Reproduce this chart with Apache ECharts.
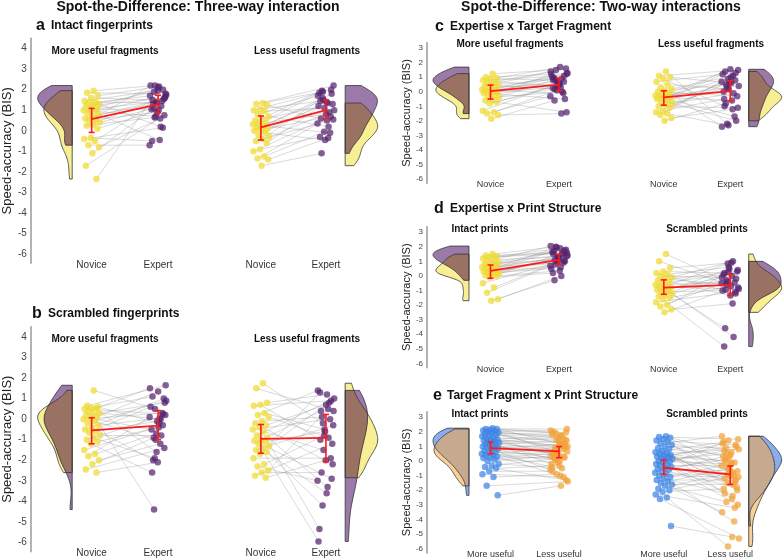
<!DOCTYPE html>
<html>
<head>
<meta charset="utf-8">
<script src="https://cdn.jsdelivr.net/npm/echarts@6/dist/echarts.min.js"></script>
<style>
  html, body { margin: 0; padding: 0; background: #fff; }
  #chart { width: 783px; height: 559px; }
</style>
</head>
<body>
<div id="chart"></div>
<script>
var myChart = echarts.init(document.getElementById('chart'))

// tick labels and category names
var yTicksTall = [-6, -5, -4, -3, -2, -1, 0, 1, 2, 3, 4]
var yTicksShort = [-6, -5, -4, -3, -2, -1, 0, 1, 2, 3]
var expertiseNames = ['Novice', 'Expert']
var fragmentNames = ['More useful', 'Less useful']

// a  Intact fingerprints (novice[i] paired with expert[i])
var aMoreNovice = [1.95, 1.85, 1.7, 1.6, 1.45, 1.4, 1.35, 1.3, 1.25, 1.2, 1.1, 1.05, 1.0, 0.95, 0.85, 0.8, 0.7, 0.6, 0.55, 0.5, 0.4, 0.3, 0.25, 0.1, -0.35, -0.4, -0.5, -0.7, -0.8, -1.1, -1.7, -2.35]
var aMoreExpert = [2.2, 1.8, 2.15, 1.5, 2.0, 1.35, 1.7, 0.2, 1.9, 1.6, 2.1, 1.05, 1.45, 0.7, 1.75, -0.45, 1.3, 1.55, 0.9, 2.2, 1.2, 0.65, 1.65, 1.0, -0.5, 0.15, 1.4, -0.7, 0.6, 1.1, 0.75, 1.95]
var aLessNovice = [1.35, 1.3, 1.25, 1.05, 1.0, 0.95, 0.8, 0.7, 0.6, 0.5, 0.4, 0.35, 0.3, 0.25, 0.15, 0.1, 0.05, 0.0, -0.1, -0.2, -0.3, -0.4, -0.5, -0.6, -0.9, -1.0, -1.25, -1.35, -1.4, -1.7]
var aLessExpert = [1.9, 2.2, 0.5, 1.45, 2.0, 1.1, 1.7, 0.2, 1.95, 1.3, 0.8, 1.85, -0.1, 1.5, 1.0, 1.35, 0.6, 1.8, -0.45, 1.2, 0.9, 1.6, 0.55, 1.4, -0.3, 0.7, -0.05, 0.35, -0.35, -1.1]
// [mean, lower, upper] for the four columns
var aMeans = [[0.57, -0.08, 1.09], [1.28, 0.88, 1.73], [0.16, -0.45, 0.72], [1.0, 0.6, 1.49]]

// b  Scrambled fingerprints
var bMoreNovice = [1.4, 0.65, 0.6, 0.55, 0.5, 0.5, 0.4, 0.3, 0.25, 0.2, 0.1, 0.05, 0.0, -0.1, -0.2, -0.3, -0.4, -0.5, -0.6, -0.65, -0.8, -0.9, -1.0, -1.1, -1.2, -1.5, -1.7, -1.8, -2.0, -2.2, -2.45, -2.6]
var bMoreExpert = [0.5, 1.65, -0.2, 1.1, 0.25, -1.6, 1.5, 0.0, -4.4, 0.8, 1.35, -0.5, 0.3, -1.0, 0.9, 0.05, -2.0, 1.0, -0.1, 0.6, -0.8, -1.9, 0.2, -0.4, -2.6, -0.3, -0.7, 0.1, -1.2, -0.9, -1.4, -2.1]
var bLessNovice = [1.75, 1.5, 0.8, 0.7, 0.65, 0.3, 0.2, 0.1, -0.1, -0.2, -0.3, -0.4, -0.5, -0.6, -0.8, -0.9, -1.0, -1.05, -1.1, -1.2, -1.3, -1.4, -1.5, -1.6, -1.7, -1.9, -2.2, -2.3, -2.5, -2.6, -2.75, -2.85]
var bLessExpert = [-0.2, 0.4, 1.2, -1.0, 0.9, -0.5, 1.4, -0.9, 0.1, -2.2, 0.7, -5.35, 0.0, -1.5, 1.0, -3.3, 0.4, -2.9, -0.6, -5.95, 0.8, -4.2, -0.3, -3.6, 1.3, -1.9, -0.8, -3.0, 0.5, -2.6, -1.2, -2.0]
var bMeans = [[-0.55, -1.2, 0.07], [-0.31, -1.0, 0.42], [-0.96, -1.66, -0.26], [-0.91, -2.07, 0.23]]

// c  Expertise x Target Fragment
var cMoreNovice = [1.25, 1.0, 0.95, 0.9, 0.8, 0.7, 0.6, 0.5, 0.45, 0.4, 0.3, 0.2, 0.15, 0.1, 0.05, 0.0, -0.05, -0.1, -0.2, -0.3, -0.35, -0.5, -0.6, -0.7, -0.8, -1.3, -1.4, -1.5, -1.6, -1.85]
var cMoreExpert = [1.5, 1.25, 1.7, 0.8, 1.1, 0.4, 1.4, 0.9, 0.2, 1.6, 0.55, 1.0, -0.1, 0.75, 1.3, 0.3, 0.95, -0.5, 0.6, 1.2, 0.0, 0.85, -1.4, 0.5, 0.25, 0.7, 0.1, -0.3, -1.5, -0.6]
var cLessNovice = [1.4, 1.1, 1.0, 0.9, 0.7, 0.5, 0.3, 0.2, 0.1, 0.0, -0.1, -0.2, -0.25, -0.3, -0.35, -0.4, -0.45, -0.5, -0.6, -0.7, -0.8, -0.9, -1.0, -1.1, -1.3, -1.4, -1.5, -1.6, -1.8, -2.0]
var cLessExpert = [-2.2, 1.5, 0.6, -1.0, 1.3, 0.2, -2.4, 1.1, 0.5, -0.3, 1.55, 0.0, -1.7, 0.9, 0.4, -0.6, 1.4, -2.0, 0.65, 1.2, -0.1, 0.3, -1.1, 1.0, -0.5, 0.8, -2.3, 0.7, -1.2, -0.8]
var cMeans = [[0.05, -0.5, 0.46], [0.5, 0.07, 0.92], [-0.39, -0.92, 0.07], [0.05, -0.62, 0.76]]

// d  Expertise x Print Structure
var dIntactNovice = [1.5, 1.4, 1.35, 1.3, 1.2, 1.1, 1.0, 0.9, 0.85, 0.8, 0.7, 0.65, 0.6, 0.5, 0.45, 0.4, 0.35, 0.3, 0.25, 0.2, 0.15, 0.1, 0.05, 0.0, -0.1, -0.5, -0.8, -1.15, -1.6, -1.7]
var dIntactExpert = [2.0, 1.6, 1.9, 1.5, 1.75, 1.3, 2.05, 1.45, 1.1, 1.8, 1.2, 1.65, 0.9, 1.95, 1.4, 0.6, 1.7, 1.0, 1.25, 0.5, 1.55, 0.8, 1.35, 0.35, 0.2, 1.05, 0.95, 0.7, 0.0, -0.3]
var dScrambledNovice = [1.5, 1.0, 0.55, 0.3, 0.2, 0.1, 0.0, -0.1, -0.2, -0.3, -0.4, -0.5, -0.6, -0.7, -0.75, -0.8, -0.9, -0.95, -1.0, -1.1, -1.2, -1.3, -1.4, -1.5, -1.6, -1.8, -2.0, -2.1, -2.3, -2.5]
var dScrambledExpert = [-0.4, -0.8, 0.9, 0.2, -1.2, 0.6, -0.1, 1.0, -0.6, 0.3, -1.35, 0.1, -0.45, 0.85, -0.9, 0.0, -3.6, -0.2, 0.5, -1.0, -4.2, -0.3, 0.4, -0.7, -4.85, -1.1, 0.25, -0.5, -1.9, -0.95]
var dMeans = [[0.34, -0.16, 0.75], [1.1, 0.8, 1.49], [-0.8, -1.26, -0.27], [-0.62, -1.33, 0.12]]

// e  Target Fragment x Print Structure (more useful[i] paired with less useful[i])
var eIntactMore = [2.25, 2.2, 2.2, 2.15, 2.1, 2.05, 2.0, 1.95, 1.9, 1.85, 1.8, 1.75, 1.7, 1.6, 1.55, 1.5, 1.45, 1.4, 1.35, 1.3, 1.25, 1.2, 1.15, 1.1, 1.05, 1.0, 0.95, 0.9, 0.85, 0.8, 0.7, 0.6, 0.55, 0.5, 0.45, 0.4, 0.3, 0.25, 0.2, 0.1, 0.0, -0.2, -0.3, -0.4, -0.5, -0.7, -0.9, -1.1, -1.7, -2.35]
var eIntactLess = [1.9, 2.2, 1.2, 2.0, 1.5, 0.6, 2.1, 1.7, 0.9, 1.95, 1.3, 1.8, 0.3, 1.45, 1.0, 1.75, 0.45, 1.25, 1.6, -0.2, 1.1, 0.8, 1.4, 0.0, 0.55, 1.05, 0.7, -0.6, 1.15, 0.2, 0.95, 0.4, -0.4, 0.85, 0.1, 0.65, -1.0, 0.5, 0.25, -0.1, 0.35, -0.5, 0.15, -1.3, -0.3, -0.7, -1.1, -0.9, -1.4, -1.7]
var eScrambledMore = [1.7, 1.65, 1.6, 1.5, 1.4, 1.3, 1.2, 1.1, 1.0, 0.9, 0.8, 0.7, 0.6, 0.55, 0.5, 0.4, 0.35, 0.3, 0.25, 0.2, 0.15, 0.1, 0.0, -0.05, -0.1, -0.2, -0.25, -0.3, -0.4, -0.5, -0.55, -0.6, -0.7, -0.8, -0.9, -1.0, -1.1, -1.2, -1.3, -1.4, -1.5, -1.6, -1.7, -1.9, -2.0, -2.1, -2.3, -2.5, -2.6, -4.45]
var eScrambledLess = [-0.4, 1.5, 0.6, -1.2, 1.1, 0.2, 1.7, -0.8, 0.9, -2.0, 0.4, 1.3, -0.1, -1.5, 0.8, -2.6, 0.0, 1.0, -0.6, 1.2, -1.0, 0.5, -3.0, -0.2, 0.7, -1.4, 1.4, -0.3, -2.4, 0.1, -1.8, -0.65, 0.3, -4.15, -0.9, -1.1, -0.15, -2.2, -1.3, -0.5, -3.5, -1.6, -2.8, -0.7, -1.05, -1.9, -3.2, -5.85, -5.3, -5.2]
var eMeans = [[0.89, 0.5, 1.3], [0.66, 0.23, 0.99], [-0.46, -0.91, 0.07], [-0.91, -1.6, -0.34]]

// layout of the two figure columns (x units: first category = 1, second = 2)
var colLeft = { left: 26, width: 357, xmin: 0.083, xmax: 5.39, pos: [1, 2, 3.55, 4.53], edge: [0.707, 4.82], vw: [0.52, 0.49],
  tick: 10, name: 13, nameGap: 14, cat: 10 }
var colRight = { left: 427, width: 356, xmin: 0.073, xmax: 5.27, pos: [1, 2, 3.53, 4.5], edge: [0.686, 4.77], vw: [0.525, 0.48],
  tick: 8, name: 11, nameGap: 11, cat: 9 }

var expColors = { pt: ['#f0d92e', '#55226e'], fill: ['#f8ee93', '#9b7aa9', '#9a7263'] }
var fragColors = { pt: ['#3b84e6', '#f3a23a'], fill: ['#8aacf0', '#f9d09a', '#c5aa8f'] }

var panels = [
  { col: colLeft, top: 38.3, height: 225, ymin: -6.45, ymax: 4.5, ticks: yTicksTall, cats: expertiseNames, colors: expColors,
    cols: [aMoreNovice, aMoreExpert, aLessNovice, aLessExpert], means: aMeans },
  { col: colLeft, top: 326.7, height: 225, ymin: -6.45, ymax: 4.5, ticks: yTicksTall, cats: expertiseNames, colors: expColors,
    cols: [bMoreNovice, bMoreExpert, bLessNovice, bLessExpert], means: bMeans },
  { col: colRight, top: 42.7, height: 140.6, ymin: -6.3, ymax: 3.38, ticks: yTicksShort, cats: expertiseNames, colors: expColors,
    cols: [cMoreNovice, cMoreExpert, cLessNovice, cLessExpert], means: cMeans },
  { col: colRight, top: 226.7, height: 141, ymin: -6.3, ymax: 3.38, ticks: yTicksShort, cats: expertiseNames, colors: expColors,
    cols: [dIntactNovice, dIntactExpert, dScrambledNovice, dScrambledExpert], means: dMeans },
  { col: colRight, top: 411.7, height: 142, ymin: -6.3, ymax: 3.38, ticks: yTicksShort, cats: fragmentNames, colors: fragColors,
    cols: [eIntactMore, eIntactLess, eScrambledMore, eScrambledLess], means: eMeans }
]

var RED = '#ff1a1a'
var FONT = '"Liberation Sans", Arial, sans-serif'

// density helpers for the half violins
function bandwidth(v) {
  var n = v.length, m = 0
  v.forEach(function (x) { m += x })
  m /= n
  var ss = 0
  v.forEach(function (x) { ss += (x - m) * (x - m) })
  var sd = Math.sqrt(ss / (n - 1))
  var s = v.slice().sort(function (a, b) { return a - b })
  function q(p) { var i = (n - 1) * p, lo = Math.floor(i); return s[lo] + (s[Math.min(lo + 1, n - 1)] - s[lo]) * (i - lo) }
  var iqr = q(0.75) - q(0.25)
  return 0.9 * Math.min(sd, iqr / 1.34) * Math.pow(n, -0.2)
}
function density(v, h, y) {
  var s = 0
  for (var i = 0; i < v.length; i++) { var u = (y - v[i]) / h; s += Math.exp(-0.5 * u * u) }
  return s / (v.length * h * Math.sqrt(2 * Math.PI))
}
function profile(fn, lo, hi) {
  var out = [], steps = 80
  for (var k = 0; k <= steps; k++) { var y = lo + (hi - lo) * k / steps; out.push([y, fn(y)]) }
  return out
}
function violinShapes(va, vb, edge, dir, width, fills) {
  var ha = bandwidth(va), hb = bandwidth(vb)
  var aLo = Math.min.apply(null, va), aHi = Math.max.apply(null, va)
  var bLo = Math.min.apply(null, vb), bHi = Math.max.apply(null, vb)
  var pa = profile(function (y) { return density(va, ha, y) }, aLo, aHi)
  var pb = profile(function (y) { return density(vb, hb, y) }, bLo, bHi)
  var po = profile(function (y) { return Math.min(density(va, ha, y), density(vb, hb, y)) }, Math.max(aLo, bLo), Math.min(aHi, bHi))
  var peak = 0
  pa.concat(pb).forEach(function (p) { peak = Math.max(peak, p[1]) })
  var sc = width / peak
  function poly(prof) {
    var pts = [[edge, prof[0][0]]]
    prof.forEach(function (p) { pts.push([edge + dir * p[1] * sc, p[0]]) })
    pts.push([edge, prof[prof.length - 1][0]])
    return pts
  }
  return [
    { pts: poly(pa), fill: fills[0], stroke: null },
    { pts: poly(pb), fill: fills[1], stroke: null },
    { pts: poly(po), fill: fills[2], stroke: null },
    { pts: poly(pa), fill: null, stroke: '#333' },
    { pts: poly(pb), fill: null, stroke: '#333' }
  ]
}

function jitter(i, seed) {
  return ((((i + seed) * 0.6180339887) % 1) - 0.5) * 0.26
}

var grids = [], xAxes = [], yAxes = [], series = []

panels.forEach(function (p, k) {
  var c = p.col
  grids.push({ left: c.left, top: p.top, width: c.width, height: p.height })
  xAxes.push({
    gridIndex: k, type: 'value', min: c.xmin, max: c.xmax,
    axisLine: { show: false }, axisTick: { show: false }, splitLine: { show: false },
    axisLabel: {
      customValues: c.pos, margin: -3, fontSize: c.cat, color: '#333', fontFamily: FONT,
      formatter: function (v) { var i = c.pos.indexOf(v); return i < 0 ? '' : p.cats[i % 2] }
    }
  })
  yAxes.push({
    gridIndex: k, type: 'value', min: p.ymin, max: p.ymax,
    name: 'Speed-accuracy (BIS)', nameLocation: 'middle', nameGap: c.nameGap,
    nameTextStyle: { fontSize: c.name, color: '#222', fontFamily: FONT },
    axisLine: { show: true, lineStyle: { color: '#9a9a9a', width: 1.5 } },
    axisTick: { show: false }, splitLine: { show: false },
    axisLabel: { customValues: p.ticks, fontSize: c.tick, color: '#444', margin: 4, fontFamily: FONT }
  })

  // half violins
  var shapes = violinShapes(p.cols[0], p.cols[1], c.edge[0], -1, c.vw[0], p.colors.fill)
    .concat(violinShapes(p.cols[2], p.cols[3], c.edge[1], 1, c.vw[1], p.colors.fill))
  series.push({
    type: 'custom', xAxisIndex: k, yAxisIndex: k, z: 1, silent: true,
    data: shapes.map(function (s) { return [s.pts[0][0], s.pts[0][1]] }),
    renderItem: function (params, api) {
      var s = shapes[params.dataIndex]
      return {
        type: 'polygon',
        shape: { points: s.pts.map(function (q) { return api.coord(q) }) },
        style: { fill: s.fill || 'none', stroke: s.stroke || 'none', lineWidth: 0.8 }
      }
    }
  })

  // paired lines and points
  ;[0, 2].forEach(function (g) {
    var left = p.cols[g], right = p.cols[g + 1]
    var pairs = left.map(function (v, i) {
      return [c.pos[g] + jitter(i, 1), v, c.pos[g + 1] + jitter(i, 7), right[i]]
    })
    series.push({
      type: 'custom', xAxisIndex: k, yAxisIndex: k, z: 2, silent: true,
      data: pairs,
      encode: { x: [0, 2], y: [1, 3] },
      renderItem: function (params, api) {
        var a = api.coord([api.value(0), api.value(1)])
        var b = api.coord([api.value(2), api.value(3)])
        return { type: 'line', shape: { x1: a[0], y1: a[1], x2: b[0], y2: b[1] },
          style: { stroke: '#8c8c8c', lineWidth: 0.6, opacity: 0.55 } }
      }
    })
    series.push({
      type: 'scatter', xAxisIndex: k, yAxisIndex: k, z: 3, silent: true, symbolSize: 6.5,
      itemStyle: { color: p.colors.pt[0], opacity: 0.72 },
      data: pairs.map(function (d) { return [d[0], d[1]] })
    })
    series.push({
      type: 'scatter', xAxisIndex: k, yAxisIndex: k, z: 3, silent: true, symbolSize: 6.5,
      itemStyle: { color: p.colors.pt[1], opacity: 0.72 },
      data: pairs.map(function (d) { return [d[2], d[3]] })
    })
    // mean line
    series.push({
      type: 'line', xAxisIndex: k, yAxisIndex: k, z: 4, silent: true, showSymbol: false,
      lineStyle: { color: RED, width: 1.8 },
      data: [[c.pos[g], p.means[g][0]], [c.pos[g + 1], p.means[g + 1][0]]]
    })
    // error bars
    series.push({
      type: 'custom', xAxisIndex: k, yAxisIndex: k, z: 5, silent: true,
      data: [[c.pos[g], p.means[g][1], p.means[g][2]], [c.pos[g + 1], p.means[g + 1][1], p.means[g + 1][2]]],
      encode: { x: 0, y: [1, 2] },
      renderItem: function (params, api) {
        var x = api.value(0)
        var t = api.coord([x, api.value(2)]), b = api.coord([x, api.value(1)])
        var st = { stroke: RED, lineWidth: 1.6 }
        return { type: 'group', children: [
          { type: 'line', shape: { x1: t[0], y1: t[1], x2: b[0], y2: b[1] }, style: st },
          { type: 'line', shape: { x1: t[0] - 3, y1: t[1], x2: t[0] + 3, y2: t[1] }, style: st },
          { type: 'line', shape: { x1: b[0] - 3, y1: b[1], x2: b[0] + 3, y2: b[1] }, style: st }
        ] }
      }
    })
  })
})

// titles, panel letters and sub-headings
var texts = [
  [198, 7, 'Spot-the-Difference: Three-way interaction', 'bold 14px', 'center'],
  [601, 7, 'Spot-the-Difference: Two-way interactions', 'bold 14px', 'center'],
  [36, 26, 'a', 'bold 16px', 'left'], [51, 26, 'Intact fingerprints', 'bold 12px', 'left'],
  [32, 314, 'b', 'bold 16px', 'left'], [48, 314, 'Scrambled fingerprints', 'bold 12px', 'left'],
  [435, 26.7, 'c', 'bold 16px', 'left'], [450, 26.7, 'Expertise x Target Fragment', 'bold 12px', 'left'],
  [434, 209, 'd', 'bold 16px', 'left'], [450, 209, 'Expertise x Print Structure', 'bold 12px', 'left'],
  [433, 396, 'e', 'bold 16px', 'left'], [447, 396, 'Target Fragment x Print Structure', 'bold 12px', 'left'],
  [105, 51, 'More useful fragments', 'bold 10px', 'center'], [307, 51, 'Less useful fragments', 'bold 10px', 'center'],
  [105, 339, 'More useful fragments', 'bold 10px', 'center'], [307, 339, 'Less useful fragments', 'bold 10px', 'center'],
  [510, 44.3, 'More useful fragments', 'bold 10px', 'center'], [711, 44.3, 'Less useful fragments', 'bold 10px', 'center'],
  [480, 229.3, 'Intact prints', 'bold 10px', 'center'], [707, 229.3, 'Scrambled prints', 'bold 10px', 'center'],
  [480, 414.3, 'Intact prints', 'bold 10px', 'center'], [707, 414.3, 'Scrambled prints', 'bold 10px', 'center']
]

option = {
  animation: false,
  backgroundColor: '#fff',
  grid: grids,
  xAxis: xAxes,
  yAxis: yAxes,
  series: series,
  graphic: texts.map(function (t) {
    return { type: 'text', x: t[0], y: t[1], silent: true,
      style: { text: t[2], font: t[3] + ' ' + FONT, textAlign: t[4], verticalAlign: 'middle', textVerticalAlign: 'middle', fill: '#111' } }
  })
}
myChart.setOption(option)
</script>
</body>
</html>
